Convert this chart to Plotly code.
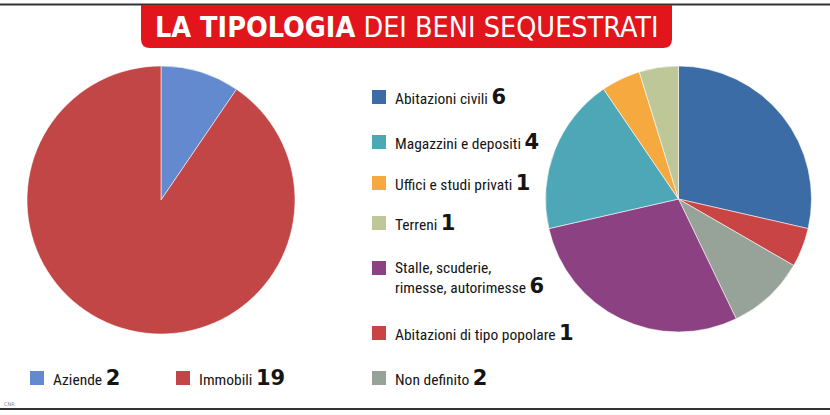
import plotly.graph_objects as go

W, H = 830, 415

# ---- data ----
left_labels = ["Aziende", "Immobili"]
left_values = [2, 19]
left_colors = ["#6389cf", "#c24646"]

# right pie, in clockwise order from 12 o'clock
right_labels = ["Abitazioni civili", "Abitazioni di tipo popolare", "Non definito",
                "Stalle, scuderie,<br>rimesse, autorimesse", "Magazzini e depositi",
                "Uffici e studi privati", "Terreni"]
right_values = [6, 1, 2, 6, 4, 1, 1]
right_colors = ["#3b6ca6", "#c94545", "#97a398", "#8c4282", "#4ea7b6", "#f5a93f", "#bdc797"]

# legend order on the right column
legend_order = ["Abitazioni civili", "Magazzini e depositi", "Uffici e studi privati",
                "Terreni", "Stalle, scuderie,<br>rimesse, autorimesse",
                "Abitazioni di tipo popolare", "Non definito"]

title_bold = "LA TIPOLOGIA"
title_rest = "DEI BENI SEQUESTRATI"
source = "CNR"

# ---- helpers (pixel -> paper) ----
def px(x):
    return x / W

def py(y):
    return 1 - y / H

TEXT_FONT = "Roboto Condensed, Liberation Sans Narrow, DejaVu Sans Condensed, sans-serif"
TITLE_FONT = "DejaVu Sans Condensed, sans-serif"
NUM_FONT = "DejaVu Sans"

fig = go.Figure()

fig.add_trace(go.Pie(
    labels=left_labels, values=left_values, sort=False, direction="clockwise",
    rotation=0, textinfo="none", showlegend=False,
    marker=dict(colors=left_colors, line=dict(color="rgba(255,255,255,0.7)", width=0.8)),
    domain=dict(x=[px(27), px(295)], y=[py(334), py(66)]),
))
fig.add_trace(go.Pie(
    labels=right_labels, values=right_values, sort=False, direction="clockwise",
    rotation=0, textinfo="none", showlegend=False,
    marker=dict(colors=right_colors, line=dict(color="rgba(255,255,255,0.7)", width=0.8)),
    domain=dict(x=[px(545), px(812)], y=[py(332), py(66)]),
))

shapes = []
annotations = []

# frame lines
shapes.append(dict(type="line", xref="paper", yref="paper", x0=0, x1=1, y0=py(4.5), y1=py(4.5),
                   line=dict(color="#333333", width=2)))
shapes.append(dict(type="line", xref="paper", yref="paper", x0=0, x1=1, y0=py(409), y1=py(409),
                   line=dict(color="#333333", width=2)))

# title box with rounded bottom corners
x0, x1, yt, yb = px(141), px(672), py(5), py(48)
rx, ry = 9 / W, 9 / H
path = (f"M {x0},{yt} L {x1},{yt} L {x1},{yb + ry} Q {x1},{yb} {x1 - rx},{yb} "
        f"L {x0 + rx},{yb} Q {x0},{yb} {x0},{yb + ry} Z")
shapes.append(dict(type="path", xref="paper", yref="paper", path=path,
                   fillcolor="#e2141c", line=dict(width=0)))
annotations.append(dict(
    x=px(406.5), y=py(27), xref="paper", yref="paper", showarrow=False,
    xanchor="center", yanchor="middle",
    text=f"<b>{title_bold}</b> {title_rest}",
    font=dict(family=TITLE_FONT, size=28.5, color="white"),
))

def legend_item(xs, yc, color, label, value, ytext=None):
    shapes.append(dict(type="rect", xref="paper", yref="paper",
                       x0=px(xs), x1=px(xs + 14), y0=py(yc + 7), y1=py(yc - 7),
                       fillcolor=color, line=dict(width=0)))
    num = f"<span style='font-family:{NUM_FONT};font-size:21px'><b>{value}</b></span>"
    annotations.append(dict(
        x=px(xs + 21), y=py(ytext if ytext is not None else yc), xref="paper", yref="paper",
        showarrow=False, xanchor="left", yanchor="middle", align="left",
        text=f"{label} {num}",
        font=dict(family=TEXT_FONT, size=15.5, color="#151515"),
    ))

# left legend (bottom)
left_leg_x = [30, 176]
for lbl, val, col, xs in zip(left_labels, left_values, left_colors, left_leg_x):
    legend_item(xs, 378, col, lbl, val)

# right legend (column)
right_leg_y = [97, 142, 183, 223, 268, 333, 378]
for lbl, yc in zip(legend_order, right_leg_y):
    i = right_labels.index(lbl)
    if "<br>" in lbl:
        legend_item(372, yc, right_colors[i], lbl, right_values[i], ytext=yc + 10)
    else:
        legend_item(372, yc, right_colors[i], lbl, right_values[i])

annotations.append(dict(x=px(2), y=py(404), xref="paper", yref="paper", showarrow=False,
                        xanchor="left", yanchor="middle", text=source,
                        font=dict(family="DejaVu Sans", size=5, color="#888888")))

fig.update_layout(
    width=W, height=H, margin=dict(l=0, r=0, t=0, b=0),
    paper_bgcolor="white", plot_bgcolor="white",
    shapes=shapes, annotations=annotations,
)

fig.write_html("out.html", config={"displayModeBar": False},
               post_script="document.body.style.margin='0';")
